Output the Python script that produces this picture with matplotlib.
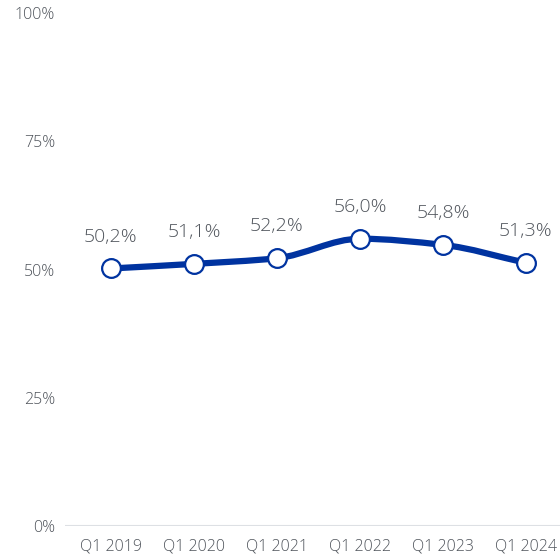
import matplotlib.pyplot as plt
import numpy as np
from matplotlib.path import Path
from matplotlib.patches import PathPatch

# Quarterly share values (%)
quarters = ['Q1 2019', 'Q1 2020', 'Q1 2021', 'Q1 2022', 'Q1 2023', 'Q1 2024']
share = [50.2, 51.1, 52.2, 56.0, 54.8, 51.3]
y_ticks = [0, 25, 50, 75, 100]

LINE_COLOR = '#0033a0'
TEXT_COLOR = '#4f545b'

plt.rcParams['font.family'] = ['Open Sans', 'DejaVu Sans']

fig = plt.figure(figsize=(5.6, 5.58), dpi=100)
ax = fig.add_axes([65 / 560, (558 - 526) / 558, 495 / 560, (526 - 13) / 558])

x = np.arange(len(quarters))
y = np.array(share)

# smooth curve through the points (cubic Bezier segments, monotone-style tangents)
n = len(x)
slopes = np.diff(y) / np.diff(x)
tang = np.zeros(n)
tang[0] = slopes[0]
tang[-1] = slopes[-1]
for i in range(1, n - 1):
    if slopes[i - 1] * slopes[i] <= 0:
        tang[i] = 0
    else:
        tang[i] = 2 / (1 / slopes[i - 1] + 1 / slopes[i])
verts = [(x[0], y[0])]
codes = [Path.MOVETO]
for i in range(n - 1):
    h = x[i + 1] - x[i]
    verts += [(x[i] + h / 3, y[i] + tang[i] * h / 3),
              (x[i + 1] - h / 3, y[i + 1] - tang[i + 1] * h / 3),
              (x[i + 1], y[i + 1])]
    codes += [Path.CURVE4] * 3
ax.add_patch(PathPatch(Path(verts, codes), facecolor='none', edgecolor=LINE_COLOR,
                       lw=4.5, capstyle='round', joinstyle='round', zorder=3))

ax.plot(x, y, linestyle='none', marker='o', markersize=13.5, markerfacecolor='white',
        markeredgecolor=LINE_COLOR, markeredgewidth=1.6, zorder=4)

for xi, yi in zip(x, y):
    ax.annotate(f'{yi:.1f}%'.replace('.', ','), (xi, yi), xytext=(0, 23),
                textcoords='offset points', ha='center', va='center',
                fontsize=14, color=TEXT_COLOR, fontweight='light')

ax.axhline(0, color='#dde0e4', lw=1.5, zorder=1)

ax.set_xlim(-0.554, 5.41)
ax.set_ylim(0, 100)
ax.set_yticks(y_ticks)
ax.set_yticklabels([f'{t}%' for t in y_ticks])
ax.set_xticks(x)
ax.set_xticklabels(quarters)
ax.tick_params(axis='both', length=0, colors=TEXT_COLOR, labelsize=11.5)
ax.tick_params(axis='y', pad=7)
ax.tick_params(axis='x', pad=9)
for lbl in ax.get_xticklabels() + ax.get_yticklabels():
    lbl.set_fontweight('light')
for s in ax.spines.values():
    s.set_visible(False)

fig.savefig('out.png', dpi=100)
